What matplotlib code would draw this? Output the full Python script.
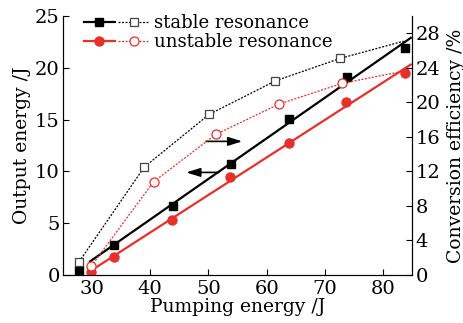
import matplotlib
matplotlib.use('Agg')
import matplotlib.pyplot as plt
from matplotlib.legend_handler import HandlerTuple
import numpy as np

plt.rcParams['font.family'] = ['DejaVu Serif']
plt.rcParams['font.size'] = 13

# output energy vs pumping energy (left axis)
pump_stable = [27.8, 33.8, 43.9, 53.8, 63.8, 73.7, 83.7]
out_stable = [0.48, 2.9, 6.7, 10.7, 15.1, 19.1, 21.9]
pump_unstable = [29.9, 33.8, 43.8, 53.7, 63.8, 73.6, 83.7]
out_unstable = [0.3, 1.77, 5.3, 9.5, 12.7, 16.7, 19.5]

# conversion efficiency (right axis)
eff_x_stable = [27.8, 39.0, 50.1, 61.5, 72.6, 83.5]
eff_stable = [1.5, 12.5, 18.6, 22.5, 25.1, 27.1]
eff_x_unstable = [29.9, 40.6, 51.3, 62.1, 72.9, 83.3]
eff_unstable = [1.0, 10.8, 16.3, 19.8, 22.2, 23.6]

# x span of the linear fits
fit_span = [29.7, 84.7]

xticks = [30, 40, 50, 60, 70, 80]
yticks_left = [0, 5, 10, 15, 20, 25]
yticks_right = [0, 4, 8, 12, 16, 20, 24, 28]

black = 'black'
red = '#e8302a'

fig = plt.figure(figsize=(4.64, 3.23), dpi=100)
ax = fig.add_axes([0.135, 0.149, 0.754, 0.801])
ax2 = ax.twinx()

# linear fits of output energy
fx = np.array(fit_span)
p_s = np.polyfit(pump_stable, out_stable, 1)
p_u = np.polyfit(pump_unstable, out_unstable, 1)
ax.plot(fx, np.polyval(p_s, fx), color=black, lw=1.6, zorder=3)
ax.plot(fx, np.polyval(p_u, fx), color=red, lw=1.6, zorder=3)
ax.plot(pump_stable, out_stable, ls='none', marker='s', ms=6, color=black, zorder=4)
ax.plot(pump_unstable, out_unstable, ls='none', marker='o', ms=6.5, color=red, zorder=4)

dash = (0, (1.6, 1.2))
ax2.plot(eff_x_stable, eff_stable, color=black, lw=0.9, ls=dash,
         marker='s', ms=6, mfc='white', mec='#444444', mew=0.9,
         markevery=list(range(len(eff_stable) - 1)))
ax2.plot(eff_x_unstable, eff_unstable, color=red, lw=0.9, ls=dash,
         marker='o', ms=6.5, mfc='white', mec=red, mew=0.9,
         markevery=list(range(len(eff_unstable) - 1)))

# arrows pointing to the corresponding axis
arrow = dict(arrowstyle='-|>,head_length=0.7,head_width=0.22',
             color='black', lw=1.2, mutation_scale=12, shrinkA=0, shrinkB=0)
ax.annotate('', xy=(55.8, 12.9), xytext=(49.6, 12.9), arrowprops=arrow)
ax.annotate('', xy=(46.2, 9.9), xytext=(51.8, 9.9), arrowprops=arrow)

ax.set_xlim(25, 85)
ax.set_ylim(0, 25)
ax2.set_ylim(0, 30)
ax.set_xticks(xticks)
ax.set_yticks(yticks_left)
ax2.set_yticks(yticks_right)

for a in (ax, ax2):
    a.spines['top'].set_visible(False)
    a.tick_params(direction='in', length=4, width=0.8, pad=2, labelsize=14)
ax.tick_params(axis='x', pad=4)

ax.set_xlabel('Pumping energy /J', labelpad=0, fontsize=13.5)
ax.set_ylabel('Output energy /J', labelpad=3, fontsize=13.5)
ax2.set_ylabel('Conversion efficiency /%', labelpad=5, fontsize=13.5)

# legend with solid+filled and dashed+open handles
h_s1, = ax.plot([], [], color=black, lw=1.6, marker='s', ms=6)
h_s2, = ax.plot([], [], color=black, lw=0.9, ls=dash, marker='s', ms=6,
                mfc='white', mec='#444444', mew=0.9)
h_u1, = ax.plot([], [], color=red, lw=1.6, marker='o', ms=6.5)
h_u2, = ax.plot([], [], color=red, lw=0.9, ls=dash, marker='o', ms=6.5,
                mfc='white', mec=red, mew=0.9)
ax.legend([(h_s1, h_s2), (h_u1, h_u2)], ['stable resonance', 'unstable resonance'],
          handler_map={tuple: HandlerTuple(ndivide=None, pad=0.2)},
          loc='upper left', bbox_to_anchor=(0.03, 1.05), frameon=False,
          handlelength=3.6, handletextpad=0.3, labelspacing=0.05,
          borderaxespad=0.2)

fig.savefig('out.png', dpi=100)
